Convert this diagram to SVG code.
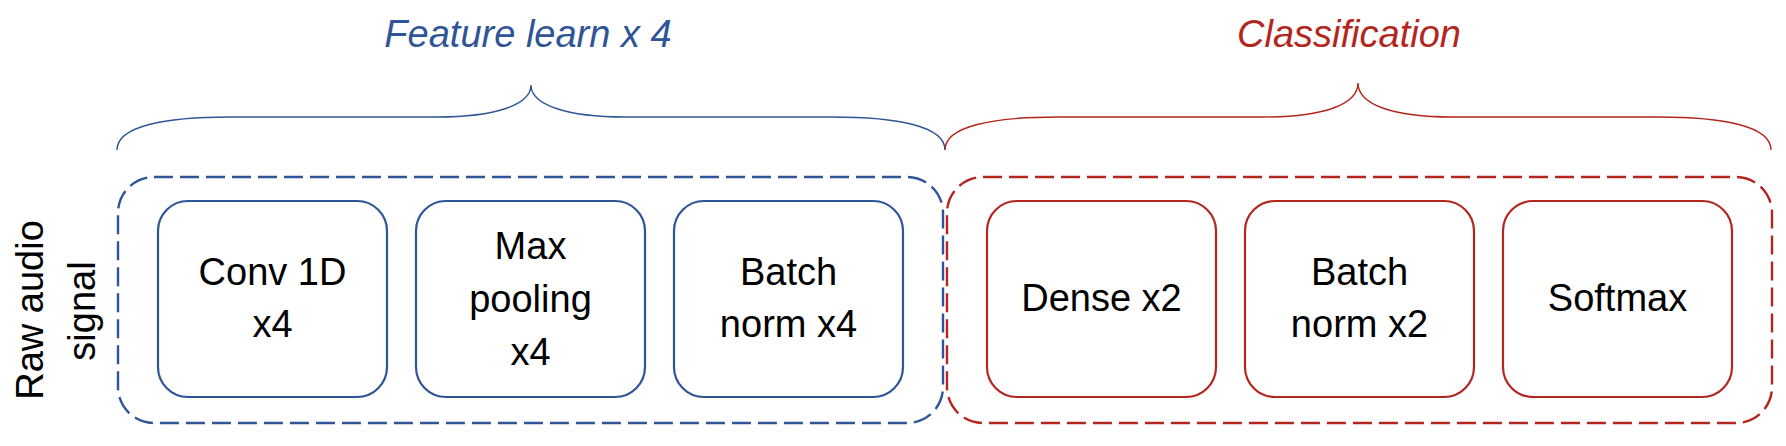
<svg xmlns="http://www.w3.org/2000/svg" width="1786" height="446" viewBox="0 0 1786 446">
<style>
text{font-family:"Liberation Sans",Arial,sans-serif;font-size:38px;fill:#000}
.title{font-style:italic;text-anchor:middle}
.tb{fill:#2F5597}
.tr{fill:#B3261E}
.lbl{text-anchor:middle}
.cont{fill:none;stroke-width:2.4;stroke-dasharray:19 7}
.box{fill:#fff;stroke-width:2.2}
.brace{fill:none;stroke-width:1.4}
.b{stroke:#2F5597}
.r{stroke:#B3261E}
</style>
<rect width="1786" height="446" fill="#fff"/>
<g id="title-feature"><text class="title tb" x="528" y="47">Feature learn x 4</text></g>
<g id="title-class"><text class="title tr" x="1349" y="47">Classification</text></g>
<g id="braces">
<path class="brace b" d="M117,150 C117,126 165,117 230,117 L437,117 C495,117 531,105 531,85 C531,105 567,117 625,117 L832,117 C897,117 945,126 945,150"/>
<path class="brace r" d="M945,150 C945,126 993,117 1058,117 L1264,117 C1322,117 1358,105 1358,83 C1358,105 1394,117 1452,117 L1658,117 C1723,117 1771,126 1771,150"/>
</g>
<g id="raw-audio">
<text class="lbl" transform="translate(43,310) rotate(-90)">Raw audio</text>
<text class="lbl" transform="translate(95,311) rotate(-90)">signal</text>
</g>
<g id="feature-container"><rect class="cont b" x="118" y="177" width="825" height="246" rx="36"/></g>
<g id="class-container"><rect class="cont r" x="947" y="177" width="825" height="246" rx="36"/></g>
<g id="conv1d">
<rect class="box b" x="158" y="201" width="229" height="196" rx="30"/>
<text class="lbl" x="272.5" y="285">Conv 1D</text>
<text class="lbl" x="272.5" y="337">x4</text>
</g>
<g id="maxpool">
<rect class="box b" x="416" y="201" width="229" height="196" rx="30"/>
<text class="lbl" x="530.5" y="259">Max</text>
<text class="lbl" x="530.5" y="312">pooling</text>
<text class="lbl" x="530.5" y="365">x4</text>
</g>
<g id="batchnorm4">
<rect class="box b" x="674" y="201" width="229" height="196" rx="30"/>
<text class="lbl" x="788.5" y="285">Batch</text>
<text class="lbl" x="788.5" y="337">norm x4</text>
</g>
<g id="dense">
<rect class="box r" x="987" y="201" width="229" height="196" rx="30"/>
<text class="lbl" x="1101.5" y="311">Dense x2</text>
</g>
<g id="batchnorm2">
<rect class="box r" x="1245" y="201" width="229" height="196" rx="30"/>
<text class="lbl" x="1359.5" y="285">Batch</text>
<text class="lbl" x="1359.5" y="337">norm x2</text>
</g>
<g id="softmax">
<rect class="box r" x="1503" y="201" width="229" height="196" rx="30"/>
<text class="lbl" x="1617.5" y="311">Softmax</text>
</g>
</svg>
